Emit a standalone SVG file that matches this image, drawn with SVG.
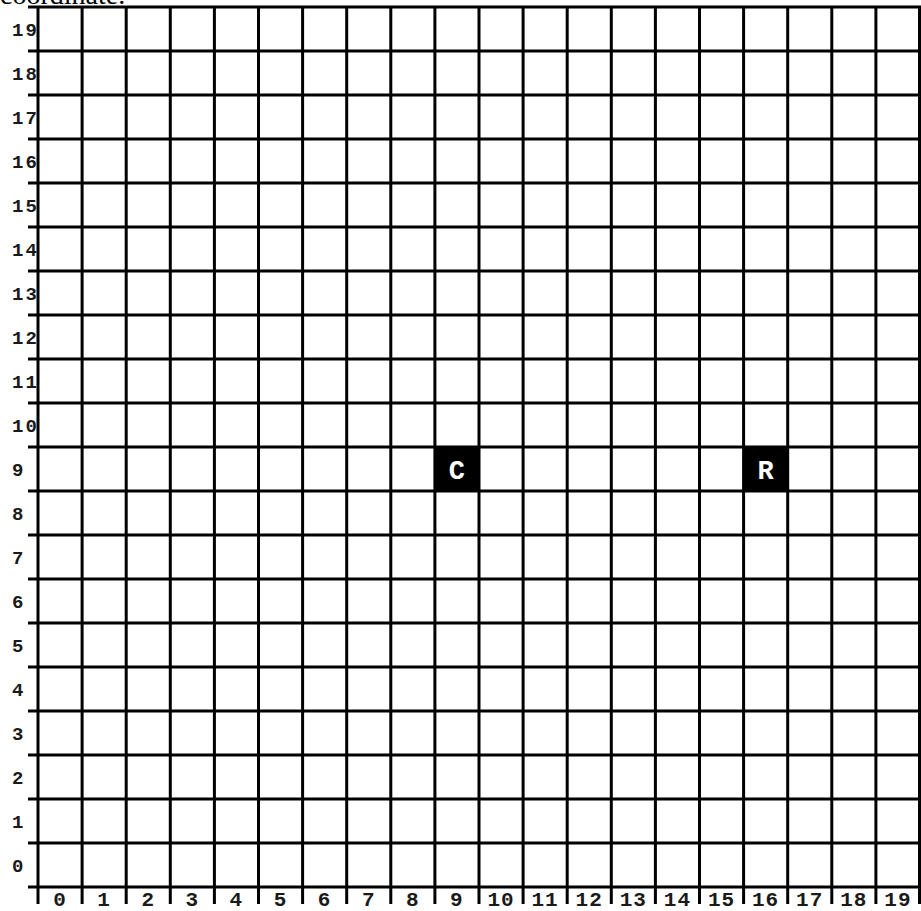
<svg xmlns="http://www.w3.org/2000/svg" width="921" height="911" viewBox="0 0 921 911">
<style>
.g{stroke:#000;stroke-width:3;fill:none}
.lbl{font-family:"Liberation Mono",monospace;font-weight:bold;fill:#1a1a1a}
.yl{font-size:19px;letter-spacing:2px}
.xl{font-size:21px;letter-spacing:1px;text-anchor:middle}
.nt{font-family:"Liberation Mono",monospace;font-weight:bold;font-size:27px;fill:#fff;text-anchor:middle}
.cap{font-family:"Liberation Serif",serif;font-size:28px;fill:#000}
</style>
<rect width="921" height="911" fill="#fff"/>
<text class="cap" x="0" y="4">coordinate.</text>
<g id="grid" class="g">
<path d="M28 7H921M28 51H921M28 95H921M28 139H921M28 183H921M28 227H921M28 271H921M28 315H921M28 359H921M28 403H921M28 447H921M28 491H921M28 535H921M28 579H921M28 623H921M28 667H921M28 711H921M28 755H921M28 799H921M28 843H921M28 887H921"/>
<path d="M38 7V904M82.1 7V904M126.2 7V904M170.3 7V904M214.4 7V904M258.5 7V904M302.6 7V904M346.7 7V904M390.8 7V904M434.9 7V904M479 7V904M523.1 7V904M567.2 7V904M611.3 7V904M655.4 7V904M699.5 7V904M743.6 7V904M787.7 7V904M831.8 7V904M875.9 7V904M919.5 7V904"/>
</g>
<g id="y-labels" class="lbl yl">
<text x="12" y="36">19</text>
<text x="12" y="80">18</text>
<text x="12" y="124">17</text>
<text x="12" y="168">16</text>
<text x="12" y="212">15</text>
<text x="12" y="256">14</text>
<text x="12" y="300">13</text>
<text x="12" y="344">12</text>
<text x="12" y="388">11</text>
<text x="12" y="432">10</text>
<text x="12" y="476">9</text>
<text x="12" y="520">8</text>
<text x="12" y="564">7</text>
<text x="12" y="608">6</text>
<text x="12" y="652">5</text>
<text x="12" y="696">4</text>
<text x="12" y="740">3</text>
<text x="12" y="784">2</text>
<text x="12" y="828">1</text>
<text x="12" y="872">0</text>
</g>
<g id="x-labels" class="lbl xl">
<text x="60" y="906">0</text>
<text x="104.1" y="906">1</text>
<text x="148.2" y="906">2</text>
<text x="192.3" y="906">3</text>
<text x="236.4" y="906">4</text>
<text x="280.5" y="906">5</text>
<text x="324.6" y="906">6</text>
<text x="368.7" y="906">7</text>
<text x="412.8" y="906">8</text>
<text x="456.9" y="906">9</text>
<text x="501" y="906">10</text>
<text x="545.1" y="906">11</text>
<text x="589.2" y="906">12</text>
<text x="633.3" y="906">13</text>
<text x="677.4" y="906">14</text>
<text x="721.5" y="906">15</text>
<text x="765.6" y="906">16</text>
<text x="809.7" y="906">17</text>
<text x="853.8" y="906">18</text>
<text x="897.9" y="906">19</text>
</g>
<g id="connectors"></g>
<g id="node-C">
<rect x="434.9" y="447" width="44.1" height="44" fill="#000"/>
<text class="nt" x="456.9" y="479">C</text>
</g>
<g id="node-R">
<rect x="743.6" y="447" width="44.1" height="44" fill="#000"/>
<text class="nt" x="765.6" y="479">R</text>
</g>
</svg>
